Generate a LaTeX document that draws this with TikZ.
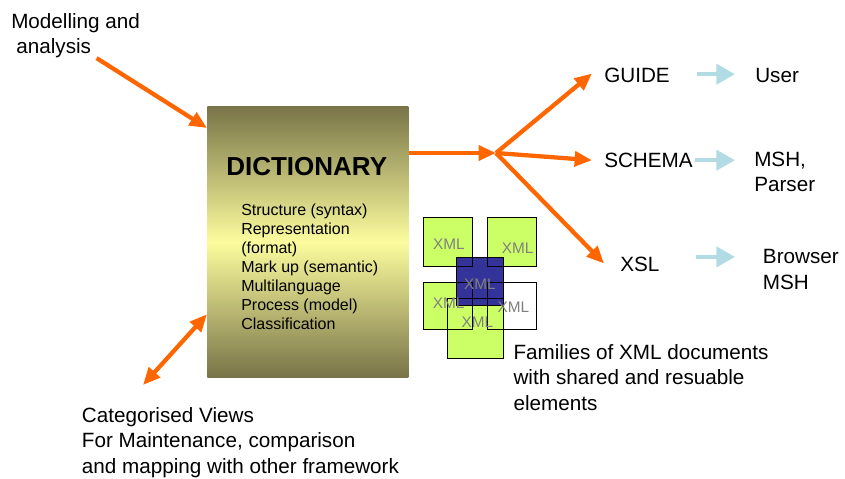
\documentclass[tikz,border=0pt]{standalone}
\usepackage{fontspec}
\setmainfont{Liberation Sans}
\usetikzlibrary{arrows.meta}

\definecolor{arrorange}{RGB}{255,102,0}
\definecolor{arrblue}{RGB}{178,220,228}
\definecolor{olivedark}{RGB}{120,116,72}
\definecolor{olivelight}{RGB}{252,252,158}
\definecolor{xmlgreen}{RGB}{204,255,102}
\definecolor{xmlblue}{RGB}{51,51,153}

\tikzset{
  txt/.style={inner sep=0pt, anchor=north west, align=left, font=\fontsize{15.5pt}{19pt}\selectfont},
  listtxt/.style={inner sep=0pt, anchor=north west, align=left, font=\fontsize{12pt}{14.25pt}\selectfont},
  titletxt/.style={inner sep=0pt, anchor=north, font=\fontsize{19.5pt}{22pt}\selectfont\bfseries},
  dictbox/.style={anchor=north west, inner sep=0pt, minimum width=150.75pt, minimum height=203.25pt,
    top color=olivedark, bottom color=olivedark, middle color=olivelight},
  oarrow/.style={draw=arrorange, line width=3.2pt, -{Triangle[length=13pt,width=11pt]}},
  oarrows/.style={draw=arrorange, line width=3.2pt, {Triangle[length=13pt,width=11pt]}-{Triangle[length=13pt,width=11pt]}},
  barrow/.style={draw=arrblue, line width=3pt, -{Triangle[length=14pt,width=15pt]}},
  xmllbl/.style={inner sep=0pt, text=gray, font=\fontsize{11.5pt}{12pt}\selectfont},
}

\begin{document}
\begin{tikzpicture}[x=0.75pt,y=-0.75pt]
\useasboundingbox (0,0) rectangle (845,478);

\node[dictbox] (dict) at (207,106) {};
\node[titletxt] (title) at (306.7,157.3) {DICTIONARY};
\node[listtxt] (dictlist) at (241,203.3) {Structure (syntax)\\Representation\\(format)\\Mark up (semantic)\\Multilanguage\\Process (model)\\Classification};

\node[txt] (model) at (11,13) {Modelling and\\\hspace*{0.25em}analysis};
\node[txt] (guide) at (604,68.3) {GUIDE};
\node[txt] (user) at (755,68.3) {User};
\node[txt] (schema) at (604,153.3) {SCHEMA};
\node[txt] (msh) at (754,151.7) {MSH,\\Parser};
\node[txt] (xsl) at (620,256.7) {XSL};
\node[txt] (browser) at (762.7,249.3) {Browser\\MSH};
\node[txt] (views) at (81.7,407.3) {Categorised Views\\For Maintenance, comparison\\and mapping with other framework};
\node[txt] (families) at (513.3,344.3) {Families of XML documents\\with shared and resuable\\elements};

\coordinate (hub) at (496,153);
\coordinate (viewsend) at (143,385);

\draw[oarrow] ([shift={(21,0)}]model.south) -- ([shift={(0,22)}]dict.north west);
\draw[oarrow] (dict.east |- hub) -- (hub);
\draw[oarrow] (hub) -- ([shift={(-12,-2.4)}]guide.west);
\draw[oarrow] (hub) -- ([shift={(-12,-0.7)}]schema.west);
\draw[oarrow] (hub) -- ([shift={(-16,-0.8)}]xsl.west);
\draw[oarrows] (viewsend) -- ([shift={(0,72.5)}]dict.west);

\draw[barrow] ([shift={(27,-1.7)}]guide.east) coordinate (g1) -- ([xshift=-15pt]g1 -| user.west);
\draw[barrow] ([shift={(2,-0.7)}]schema.east) coordinate (s1) -- ([xshift=-14.25pt]s1 -| msh.west);
\draw[barrow] ([shift={(36,-7.4)}]xsl.east) coordinate (x1) -- ([xshift=-20.75pt]x1 -| browser.west);

\foreach \xa/\ya/\xb/\yb/\col in {423/217/472/266/xmlgreen, 487/217/536/266/xmlgreen,
    423/282/472/329/xmlgreen, 487/282/536/329/white, 447/298/503/358/xmlgreen, 456/257/503/305/xmlblue}
  \fill[\col] (\xa,\ya) rectangle (\xb,\yb);
\foreach \xa/\ya/\xb/\yb in {423/217/472/266, 487/217/536/266, 423/282/472/329,
    487/282/536/329, 447/298/503/358, 456/257/503/305}
  \draw[line width=0.6pt] (\xa,\ya) rectangle (\xb,\yb);

\node[xmllbl] (xmla) at (449,244) {XML};
\node[xmllbl] (xmlb) at (517.7,248) {XML};
\node[xmllbl] (xmlc) at (448.7,303) {XML};
\node[xmllbl] (xmld) at (513.3,307) {XML};
\node[xmllbl] (xmle) at (477.3,322.3) {XML};
\node[xmllbl] (xmlf) at (480,284.3) {XML};
\end{tikzpicture}
\end{document}
